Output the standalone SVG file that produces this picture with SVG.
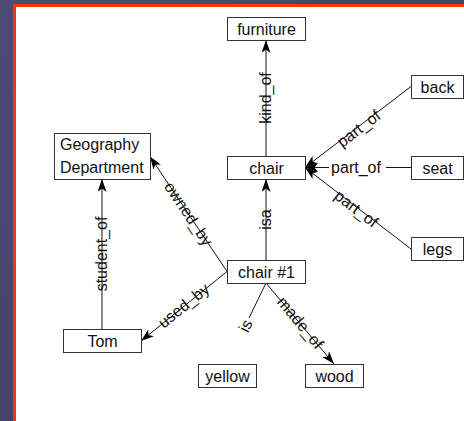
<svg xmlns="http://www.w3.org/2000/svg" width="464" height="421" viewBox="0 0 464 421">
  <style>
    .node rect { fill: #fff; stroke: #333; stroke-width: 1; }
    .node text { font-family: "Liberation Sans", Arial, sans-serif; font-size: 16px; fill: #111; text-anchor: middle; }
    .edges line { stroke: #111; stroke-width: 1; fill: none; }
    .lbl { font-family: "Liberation Sans", Arial, sans-serif; font-size: 16px; fill: #111; text-anchor: middle; }
  </style>
  <defs>
    <marker id="arr" viewBox="0 0 13 9" refX="13" refY="4.5" markerWidth="13" markerHeight="9" orient="auto" markerUnits="userSpaceOnUse">
      <path d="M0,0 L13,4.5 L0,9 L3.5,4.5 z" fill="#000"/>
    </marker>
    <linearGradient id="bg" x1="0" y1="0" x2="1" y2="1">
      <stop offset="0" stop-color="#4b4b74"/>
      <stop offset="0.5" stop-color="#45456b"/>
      <stop offset="1" stop-color="#40405f"/>
    </linearGradient>
  </defs>

  <!-- slide background and framed canvas -->
  <rect x="0" y="0" width="464" height="421" fill="url(#bg)"/>
  <rect x="14.5" y="5.5" width="460" height="430" fill="#fff" stroke="#ff3300" stroke-width="3"/>

  <!-- connectors -->
  <g class="edges" id="edges">
    <line x1="266" y1="156" x2="266" y2="40" marker-end="url(#arr)"/>
    <line x1="266" y1="260" x2="266" y2="179" marker-end="url(#arr)"/>
    <line x1="411" y1="86.5" x2="305" y2="167.5" marker-end="url(#arr)"/>
    <line x1="411" y1="167.5" x2="305" y2="167.5" marker-end="url(#arr)"/>
    <line x1="411" y1="249" x2="305" y2="167.5" marker-end="url(#arr)"/>
    <line x1="227" y1="271.5" x2="150" y2="156.5" marker-end="url(#arr)"/>
    <line x1="227" y1="271.5" x2="141" y2="341" marker-end="url(#arr)"/>
    <line x1="102" y1="329" x2="102" y2="179" marker-end="url(#arr)"/>
    <line x1="266" y1="283" x2="249" y2="318"/>
    <line x1="266" y1="283" x2="334" y2="364" marker-end="url(#arr)"/>

    <!-- edge labels -->
    <text class="lbl" transform="translate(266,98) rotate(-90)" y="5">kind_of</text>
    <text class="lbl" transform="translate(266,219.5) rotate(-90)" y="5">isa</text>
    <text class="lbl" transform="translate(359,129) rotate(-37.4)" y="5">part_of</text>
    <rect x="329" y="159" width="57" height="18" fill="#fff"/>
    <text class="lbl" x="356" y="173">part_of</text>
    <text class="lbl" transform="translate(356,209) rotate(37.5)" y="5">part_of</text>
    <text class="lbl" transform="translate(188,214) rotate(56.2)" y="5">owned_by</text>
    <text class="lbl" transform="translate(184,306) rotate(-39)" y="5">used_by</text>
    <text class="lbl" transform="translate(102,254) rotate(-90)" y="5">student_of</text>
    <text class="lbl" transform="translate(246,326) rotate(-64)" y="5">is</text>
    <text class="lbl" transform="translate(300,323) rotate(50)" y="5">made_of</text>
  </g>

  <!-- nodes -->
  <g class="node" id="furniture"><rect x="227.5" y="17.5" width="78" height="23"/><text x="266.5" y="34.5">furniture</text></g>
  <g class="node" id="back"><rect x="411.5" y="75.5" width="52" height="23"/><text x="437.5" y="92.5">back</text></g>
  <g class="node" id="seat"><rect x="411.5" y="156.5" width="52" height="23"/><text x="437.5" y="173.5">seat</text></g>
  <g class="node" id="legs"><rect x="411.5" y="237.5" width="52" height="23"/><text x="437.5" y="254.5">legs</text></g>
  <g class="node" id="geography"><rect x="54.5" y="133.5" width="96" height="46"/><text x="60" y="149.5" style="text-anchor:start">Geography</text><text x="60" y="172.5" style="text-anchor:start">Department</text></g>
  <g class="node" id="chair"><rect x="227.5" y="156.5" width="78" height="23"/><text x="266.5" y="173.5">chair</text></g>
  <g class="node" id="chair1"><rect x="227.5" y="260.5" width="78" height="23"/><text x="266.5" y="277.5">chair #1</text></g>
  <g class="node" id="tom"><rect x="63.5" y="329.5" width="78" height="23"/><text x="102.5" y="346.5">Tom</text></g>
  <g class="node" id="yellow"><rect x="198.5" y="364.5" width="58" height="23"/><text x="227.5" y="381.5">yellow</text></g>
  <g class="node" id="wood"><rect x="305.5" y="364.5" width="58" height="23"/><text x="334.5" y="381.5">wood</text></g>
</svg>
